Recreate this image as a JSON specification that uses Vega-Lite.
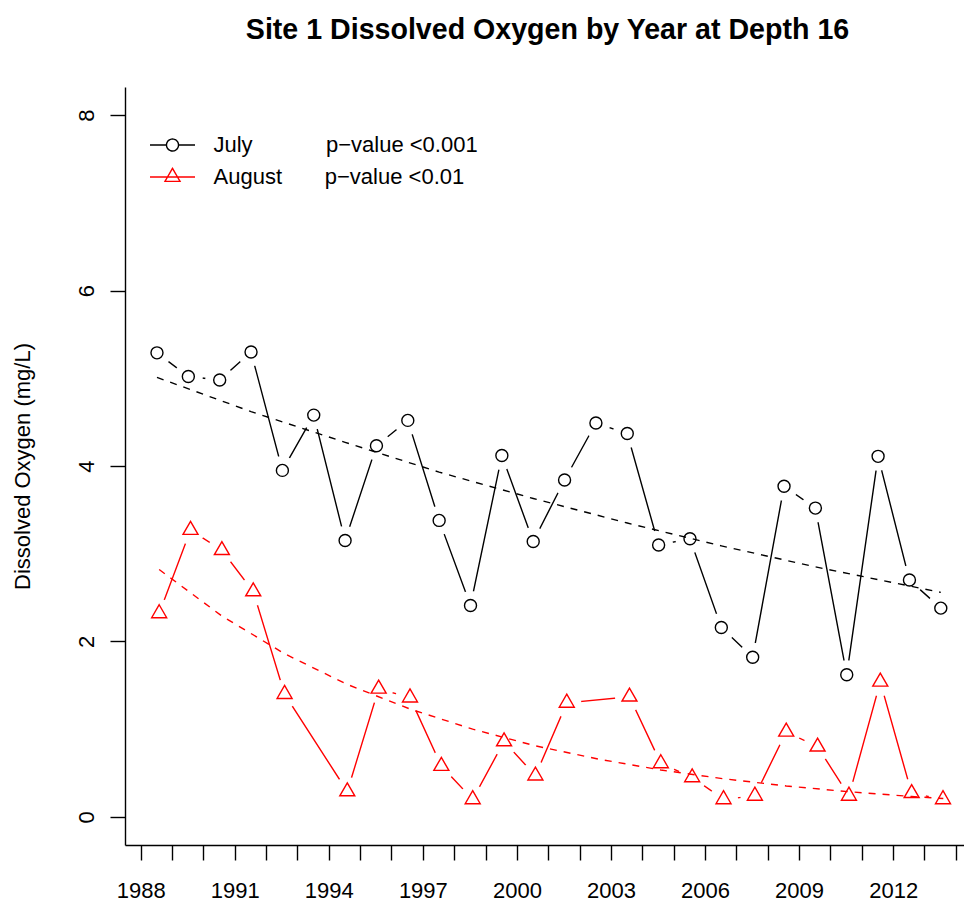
{
  "$schema": "https://vega.github.io/schema/vega-lite/v6.json",
  "autosize": {"type": "none"},
  "width": 839,
  "height": 758,
  "padding": {"left": 125, "top": 87, "right": 0, "bottom": 58},
  "background": "white",
  "title": {"text": "Site 1 Dissolved Oxygen by Year at Depth 16", "font": "Liberation Sans", "fontSize": 28.6, "fontWeight": "bold", "color": "black", "anchor": "middle", "baseline": "alphabetic", "offset": 19, "dx": 3},
  "config": {
    "view": {"stroke": null},
    "axis": {"labelFont": "Liberation Sans", "titleFont": "Liberation Sans", "labelColor": "black", "titleColor": "black", "domainColor": "black", "tickColor": "black", "domainWidth": 1.4, "tickWidth": 1.4, "tickSize": 15, "grid": false, "labelFontSize": 22, "titleFontSize": 22, "titleFontWeight": "normal"}
  },
  "datasets": {
    "obs": [
      {"t": 1988.52, "month": "July", "do": 5.29},
      {"t": 1989.52, "month": "July", "do": 5.02},
      {"t": 1990.52, "month": "July", "do": 4.98},
      {"t": 1991.52, "month": "July", "do": 5.30},
      {"t": 1992.52, "month": "July", "do": 3.95},
      {"t": 1993.52, "month": "July", "do": 4.58},
      {"t": 1994.52, "month": "July", "do": 3.15},
      {"t": 1995.52, "month": "July", "do": 4.23},
      {"t": 1996.52, "month": "July", "do": 4.52},
      {"t": 1997.52, "month": "July", "do": 3.38},
      {"t": 1998.52, "month": "July", "do": 2.41},
      {"t": 1999.52, "month": "July", "do": 4.12},
      {"t": 2000.52, "month": "July", "do": 3.14},
      {"t": 2001.52, "month": "July", "do": 3.84},
      {"t": 2002.52, "month": "July", "do": 4.49},
      {"t": 2003.52, "month": "July", "do": 4.37},
      {"t": 2004.52, "month": "July", "do": 3.10},
      {"t": 2005.52, "month": "July", "do": 3.17},
      {"t": 2006.52, "month": "July", "do": 2.16},
      {"t": 2007.52, "month": "July", "do": 1.82},
      {"t": 2008.52, "month": "July", "do": 3.77},
      {"t": 2009.52, "month": "July", "do": 3.52},
      {"t": 2010.52, "month": "July", "do": 1.62},
      {"t": 2011.52, "month": "July", "do": 4.11},
      {"t": 2012.52, "month": "July", "do": 2.70},
      {"t": 2013.52, "month": "July", "do": 2.38},
      {"t": 1988.59, "month": "August", "do": 2.32},
      {"t": 1989.59, "month": "August", "do": 3.27},
      {"t": 1990.59, "month": "August", "do": 3.04},
      {"t": 1991.59, "month": "August", "do": 2.57},
      {"t": 1992.59, "month": "August", "do": 1.40},
      {"t": 1994.59, "month": "August", "do": 0.29},
      {"t": 1995.59, "month": "August", "do": 1.46},
      {"t": 1996.59, "month": "August", "do": 1.36},
      {"t": 1997.59, "month": "August", "do": 0.58},
      {"t": 1998.59, "month": "August", "do": 0.20},
      {"t": 1999.59, "month": "August", "do": 0.86},
      {"t": 2000.59, "month": "August", "do": 0.47},
      {"t": 2001.59, "month": "August", "do": 1.30},
      {"t": 2003.59, "month": "August", "do": 1.37},
      {"t": 2004.59, "month": "August", "do": 0.61},
      {"t": 2005.59, "month": "August", "do": 0.45},
      {"t": 2006.59, "month": "August", "do": 0.20},
      {"t": 2007.59, "month": "August", "do": 0.24},
      {"t": 2008.59, "month": "August", "do": 0.97},
      {"t": 2009.59, "month": "August", "do": 0.80},
      {"t": 2010.59, "month": "August", "do": 0.24},
      {"t": 2011.59, "month": "August", "do": 1.54},
      {"t": 2012.59, "month": "August", "do": 0.27},
      {"t": 2013.59, "month": "August", "do": 0.20}
    ],
    "trend": [
      {"t": 1988.52, "month": "July", "fit": 5.01},
      {"t": 1991.52, "month": "July", "fit": 4.62},
      {"t": 1994.52, "month": "July", "fit": 4.27},
      {"t": 1997.52, "month": "July", "fit": 3.93},
      {"t": 2000.52, "month": "July", "fit": 3.63},
      {"t": 2003.52, "month": "July", "fit": 3.35},
      {"t": 2006.52, "month": "July", "fit": 3.09},
      {"t": 2009.52, "month": "July", "fit": 2.85},
      {"t": 2013.52, "month": "July", "fit": 2.56},
      {"t": 1988.59, "month": "August", "fit": 2.82},
      {"t": 1990.59, "month": "August", "fit": 2.29},
      {"t": 1992.59, "month": "August", "fit": 1.86},
      {"t": 1994.59, "month": "August", "fit": 1.51},
      {"t": 1996.59, "month": "August", "fit": 1.23},
      {"t": 1998.59, "month": "August", "fit": 1.00},
      {"t": 2000.59, "month": "August", "fit": 0.81},
      {"t": 2002.59, "month": "August", "fit": 0.66},
      {"t": 2004.59, "month": "August", "fit": 0.535},
      {"t": 2006.59, "month": "August", "fit": 0.435},
      {"t": 2008.59, "month": "August", "fit": 0.353},
      {"t": 2010.59, "month": "August", "fit": 0.287},
      {"t": 2012.59, "month": "August", "fit": 0.233},
      {"t": 2013.6, "month": "August", "fit": 0.21}
    ]
  },
  "layer": [
    {
      "data": {"name": "obs"},
      "mark": {"type": "line", "strokeWidth": 1.4},
      "encoding": {
        "x": {"field": "t", "type": "quantitative", "scale": {"domain": [1987.5, 2014.26], "nice": false, "zero": false},
              "axis": {"title": null, "values": [1988,1989,1990,1991,1992,1993,1994,1995,1996,1997,1998,1999,2000,2001,2002,2003,2004,2005,2006,2007,2008,2009,2010,2011,2012,2013,2014],
                       "tickCount": 40,
                       "labelExpr": "((datum.value - 1988) % 3 === 0 && datum.value <= 2012) ? ('' + datum.value) : ''",
                       "labelPadding": 20, "labelOverlap": false, "labelFlush": false, "labelBaseline": "top"}},
        "y": {"field": "do", "type": "quantitative", "scale": {"domain": [-0.32, 8.32], "nice": false, "zero": false},
              "axis": {"title": "Dissolved Oxygen (mg/L)", "values": [0, 2, 4, 6, 8], "format": "d", "labelAngle": -90, "labelAlign": "center", "labelBaseline": "alphabetic", "labelPadding": 17,
                       "titleAngle": -90, "titleX": -103, "titleY": 379, "titleAlign": "center", "titleBaseline": "middle"}},
        "color": {"field": "month", "type": "nominal", "scale": {"domain": ["July", "August"], "range": ["#000000", "#FF0000"]},
                  "legend": {"orient": "none", "legendX": 36.5, "legendY": 47, "title": null, "padding": 0,
                             "symbolSize": 225, "symbolStrokeWidth": 1.4, "symbolDash": [1, 0], "symbolFillColor": "transparent",
                             "symbolType": {"expr": "datum.value === 'July' ? 'M-3,0L-0.8,0M0.8,0L3,0M0.8,0A0.8,0.8,0,1,1,-0.8,0A0.8,0.8,0,1,1,0.8,0Z' : 'M-3,0L3,0M0,-1.155L1,0.577L-1,0.577Z'"},
                             "labelFont": "Liberation Sans", "labelFontSize": 22, "labelColor": "black",
                             "labelOffset": 30, "rowPadding": 9, "labelLimit": 500,
                             "labelExpr": "datum.label === 'July' ? 'July\u00a0\u00a0\u00a0\u00a0\u00a0\u00a0\u00a0\u00a0\u00a0\u00a0\u00a0\u00a0p\u2212value <0.001' : 'August\u00a0\u00a0\u00a0\u00a0\u00a0\u00a0\u00a0p\u2212value <0.01'"}},
        "detail": {"field": "month"}
      }
    },
    {
      "data": {"name": "obs"},
      "mark": {"type": "point", "shape": "circle", "filled": true, "fill": "white", "opacity": 1, "size": 841, "strokeWidth": 0},
      "encoding": {
        "x": {"field": "t", "type": "quantitative"},
        "y": {"field": "do", "type": "quantitative"}
      }
    },
    {
      "data": {"name": "trend"},
      "mark": {"type": "line", "strokeWidth": 1.4, "strokeDash": [7, 7]},
      "encoding": {
        "x": {"field": "t", "type": "quantitative"},
        "y": {"field": "fit", "type": "quantitative"},
        "color": {"field": "month", "type": "nominal"},
        "detail": {"field": "month"}
      }
    },
    {
      "data": {"name": "obs"},
      "mark": {"type": "point", "filled": false, "fill": null, "size": 225, "strokeWidth": 1.4, "opacity": 1},
      "encoding": {
        "x": {"field": "t", "type": "quantitative"},
        "y": {"field": "do", "type": "quantitative"},
        "shape": {"condition": {"test": "datum.month === 'August'", "value": "M0,-1.155L1,0.577L-1,0.577Z"}, "value": "M0.8,0A0.8,0.8,0,1,1,-0.8,0A0.8,0.8,0,1,1,0.8,0Z"},
        "stroke": {"condition": {"test": "datum.month === 'August'", "value": "#FF0000"}, "value": "#000000"}
      }
    },
    {
      "mark": {"type": "rule", "color": "black", "strokeWidth": 1.4},
      "encoding": {"y": {"datum": 8.32}}
    }
  ]
}
